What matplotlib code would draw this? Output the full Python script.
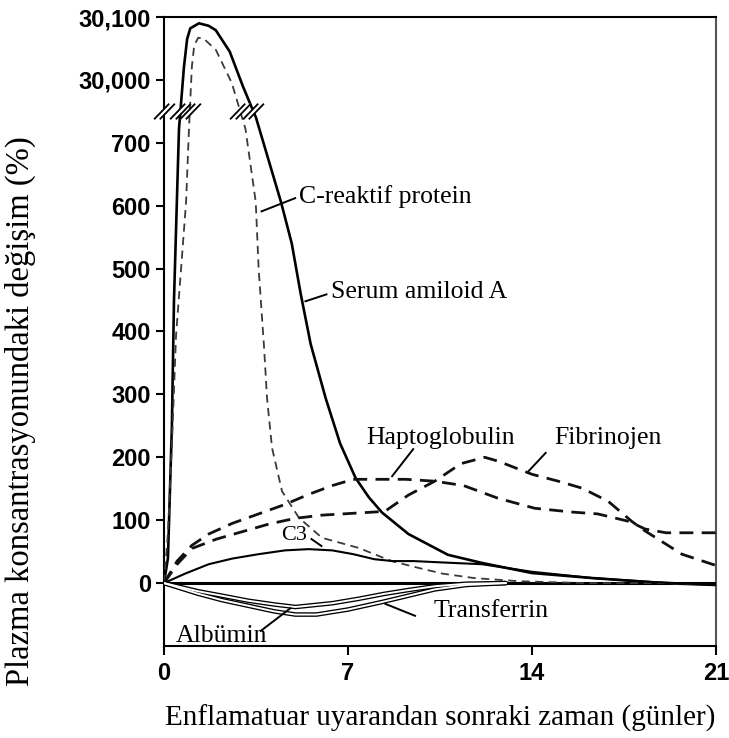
import numpy as np
import matplotlib
matplotlib.use("Agg")
import matplotlib.pyplot as plt
from matplotlib.path import Path

# ---------------- data (days after inflammatory stimulus, % change) ----------------
crp_days = [0, 0.15, 0.3, 0.38, 0.57, 0.76, 0.88, 1.0, 1.33, 1.7, 1.97, 2.5, 3.0, 3.5, 4.45,
            4.86, 5.2, 5.58, 6.15, 6.7, 7.29, 7.8, 8.3, 9.3, 10.8, 12.1, 14.0, 16.3, 19.0, 21.0]
crp_vals = [0, 40, 250, 450, 722, 30021, 30065, 30082, 30090, 30086, 30079, 30045, 29990, 740, 606,
            540, 460, 380, 294, 222, 167, 136, 112, 78, 45, 32, 16, 8, 0, -3]

saa_days = [0, 0.15, 0.3, 0.46, 0.65, 0.84, 0.95, 1.06, 1.15, 1.3, 1.5, 1.97, 2.58, 3.1, 3.49,
            3.6, 3.8, 3.92, 4.11, 4.49, 5.13, 6.01, 7.4, 8.66, 9.6, 10.6, 11.8, 13.5, 16, 19, 21]
saa_vals = [0, 80, 220, 395, 500, 606, 722, 30021, 30055, 30067, 30066, 30048, 29995, 722, 606,
            500, 379, 294, 215, 146, 104, 72, 56, 35, 25, 15, 8, 3, 0, 0, -3]

hap_days = [0, 0.5, 1.06, 1.7, 2.6, 3.6, 4.6, 5.5, 6.4, 7.2, 8.2, 9.2, 10.3, 11.4, 12.7, 14.1,
            15.5, 16.5, 17.7, 18.3, 19.1, 20, 21]
hap_vals = [0, 35, 60, 78, 95, 110, 125, 141, 155, 165, 165, 165, 162, 155, 135, 119,
            113, 110, 98, 86, 80, 80, 80]

fib_days = [0, 0.5, 1.06, 2, 3, 4, 5, 6, 7.2, 8.4, 9.3, 10.3, 11.3, 12.2, 12.7, 14.0, 15.0,
            15.9, 16.9, 17.8, 18.3, 19.7, 21]
fib_vals = [0, 30, 55, 70, 82, 94, 103, 108, 111, 114, 140, 162, 190, 200, 194, 173, 162,
            151, 130, 98, 83, 46, 28]

c3_days = [0, 0.8, 1.7, 2.6, 3.6, 4.6, 5.5, 6.4, 7.2, 8.0, 8.7, 9.5, 10.5, 12.1, 14.0, 16.3, 18.5, 21]
c3_vals = [0, 15, 30, 39, 46, 52, 54, 52, 46, 38, 35, 35, 33, 30, 18, 8, 2, -3]

alb_days = [0, 1.3, 2.2, 3.2, 4.2, 5.0, 5.8, 7.0, 8.3, 9.3, 10.3, 11.5, 13]
alb_vals = [0, -17, -27, -36, -45, -50, -50, -42, -30, -20, -10, -3, 0]

tf_days = [0, 1.3, 2.2, 3.2, 4.2, 5.0, 6.4, 7.4, 8.4, 9.3, 10.3, 11.5, 13]
tf_vals = [0, -13, -20, -28, -34, -38, -32, -25, -17, -11, -5, -1, 0]

x_ticks = [0, 7, 14, 21]
y_ticks = [0, 100, 200, 300, 400, 500, 600, 700, 30000, 30100]
y_tick_labels = ["0", "100", "200", "300", "400", "500", "600", "700", "30,000", "30,100"]

x_label = "Enflamatuar uyarandan sonraki zaman (günler)"
y_label = "Plazma konsantrasyonundaki değişim (%)"

# ---------------- broken y scale ----------------
BRK_LO, BRK_HI = 750.0, 29950.0
GAP = BRK_HI - BRK_LO


def fwd(v):
    v = np.asarray(v, dtype=float)
    return np.where(v <= BRK_LO, v, np.where(v >= BRK_HI, v - GAP, BRK_LO))


def inv(m):
    m = np.asarray(m, dtype=float)
    return np.where(m <= BRK_LO, m, m + GAP)


serif = ["Liberation Serif", "DejaVu Serif"]
sans = ["Liberation Sans", "DejaVu Sans"]

fig = plt.figure(figsize=(7.29, 7.38), dpi=100)
ax = fig.add_axes([164 / 729, 1 - 646 / 738, (716 - 164) / 729, (646 - 17) / 738])
ax.set_yscale("function", functions=(fwd, inv))
ax.set_xlim(0, 21)
ax.set_ylim(-100, 30100)

# curves
ax.axhline(0, color="black", lw=2.2, zorder=3)
ax.plot(crp_days, crp_vals, color="black", lw=1.9, zorder=4, solid_joinstyle="round")
ax.plot(saa_days, saa_vals, color="#3a3a3a", lw=1.3, dashes=(4.5, 3), zorder=4)
ax.plot(hap_days, hap_vals, color="#111111", lw=2.0, dashes=(5, 3), zorder=4)
ax.plot(fib_days, fib_vals, color="#111111", lw=2.0, dashes=(5, 3), zorder=4)
ax.plot(c3_days, c3_vals, color="black", lw=1.5, zorder=4)
for d, v in ((alb_days, alb_vals), (tf_days, tf_vals)):
    ax.plot(d, v, color="black", lw=3.3, zorder=4, solid_capstyle="round")
    ax.plot(d, v, color="white", lw=1.4, zorder=4.5)

# break marks where curves cross the axis break
def crossings(days, vals):
    m = fwd(vals)
    out = []
    for i in range(len(m) - 1):
        a, b = m[i], m[i + 1]
        if (a - BRK_LO) * (b - BRK_LO) < 0:
            t = (BRK_LO - a) / (b - a)
            out.append(days[i] + t * (days[i + 1] - days[i]))
    return out


brk_x = [0.0] + crossings(crp_days, crp_vals) + crossings(saa_days, saa_vals)
gap_path = Path([(-1, -0.75), (-0.45, -0.75), (1, 0.75), (0.45, 0.75), (-1, -0.75)],
                [Path.MOVETO, Path.LINETO, Path.LINETO, Path.LINETO, Path.CLOSEPOLY])
line_path = Path([(-1, -0.75), (0.45, 0.75), (-0.45, -0.75), (1, 0.75)],
                 [Path.MOVETO, Path.LINETO, Path.MOVETO, Path.LINETO])
ax.plot(brk_x, [BRK_LO] * len(brk_x), ls="none", marker=gap_path, ms=15,
        mfc="white", mec="none", zorder=6, clip_on=False)
ax.plot(brk_x, [BRK_LO] * len(brk_x), ls="none", marker=line_path, ms=15,
        mfc="none", mec="black", mew=1.3, zorder=7, clip_on=False)

# annotations (text + leader lines)
ann = [
    ("C-reaktif protein", 5.12, 614, (3.71, 4.99), (591, 612), 18.5),
    ("Serum amiloid A", 6.37, 463, (5.38, 6.18), (448, 459), 18.5),
    ("Haptoglobulin", 7.70, 230, (8.68, 9.48), (170, 213), 18.5),
    ("Fibrinojen", 14.86, 230, (13.87, 14.52), (178, 207), 18.5),
    ("C3", 4.44, 76, (5.61, 5.99), (70, 59), 16),
    ("Transferrin", 10.24, -45, (8.42, 9.55), (-33, -52), 18.5),
    ("Albümin", 0.45, -84, (3.68, 4.81), (-76, -40), 18.5),
]
for txt, tx, ty, lx, ly, fs in ann:
    ax.text(tx, ty, txt, fontsize=fs, family=serif, ha="left", va="center", zorder=8)
    ax.plot(lx, ly, color="black", lw=1.4, zorder=8)

# axes styling
ax.set_xticks(x_ticks)
ax.set_xticklabels([str(t) for t in x_ticks])
ax.set_yticks(y_ticks)
ax.set_yticklabels(y_tick_labels)
ax.tick_params(axis="y", direction="out", length=5.5, width=1.5, pad=4)
ax.tick_params(axis="x", direction="out", length=6.5, width=1.5, pad=5)
for lab in ax.get_xticklabels() + ax.get_yticklabels():
    lab.set_family(sans)
    lab.set_fontweight("bold")
    lab.set_fontsize(17)
for s in ax.spines.values():
    s.set_linewidth(1.5)
ax.spines["right"].set_color("#555555")

fig.text(440 / 729, 1 - 718 / 738, x_label, fontsize=21, family=serif, ha="center", va="center")
fig.text(20 / 729, 1 - 411 / 738, y_label, fontsize=23.5, family=serif, ha="center", va="center",
         rotation=90)

fig.savefig("out.png", dpi=100)
